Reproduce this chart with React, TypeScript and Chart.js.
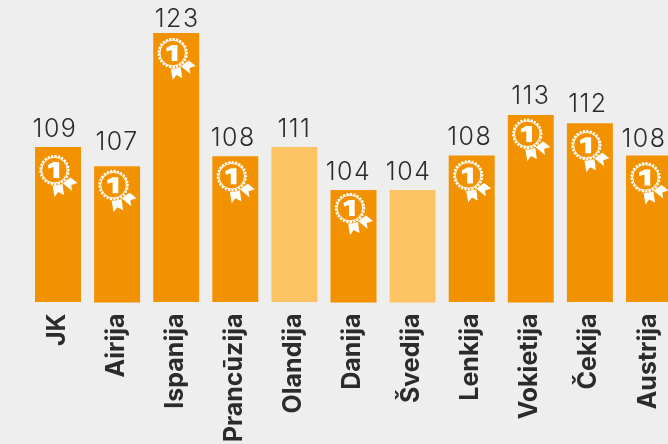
import React, { useEffect, useRef } from "react";
import { Chart, registerables } from "chart.js";

Chart.register(...registerables);

const categories = ["JK", "Airija", "Ispanija", "Prancūzija", "Olandija", "Danija", "Švedija", "Lenkija", "Vokietija", "Čekija", "Austrija"];
const barValues = [109.2, 106.9, 123, 108.1, 109.2, 104, 104, 108.2, 113.1, 112.1, 108.2];
const barBases = [90.45, 90.35, 90.45, 90.45, 90.45, 90.35, 90.35, 90.45, 90.35, 90.45, 90.45];
const shownValues = ["109", "107", "123", "108", "111", "104", "104", "108", "113", "112", "108"];
const hasMedal = [true, true, true, true, false, true, false, true, true, true, true];

const labelDx = [-3, 0, 1, -2, 0, -5, -4, -2, 0, -2, -5];
const labelGap = [10, 16, 6, 10, 10, 10, 10, 10, 11, 11, 8];
const medalDy = [23, 19, 20, 20, 0, 18, 0, 20, 19, 22, 22];

const ORANGE = "#f39200";
const LIGHT = "#fdc463";
const BG = "#eeeeee";
const INK = "#2b2b2b";

function drawMedal(ctx: CanvasRenderingContext2D, cx: number, cy: number) {
  ctx.save();
  ctx.translate(cx, cy);
  ctx.fillStyle = "#ffffff";
  ctx.strokeStyle = "#ffffff";
  const poly = (pts: number[][]) => {
    ctx.beginPath();
    pts.forEach(([x, y], i) => (i ? ctx.lineTo(x, y) : ctx.moveTo(x, y)));
    ctx.closePath();
    ctx.fill();
  };
  poly([[-2, 15], [8, 14], [9.5, 25], [3.7, 22], [0, 27]]);
  poly([[8, 13], [16, 7.5], [23, 13], [16.7, 15], [17.7, 21]]);
  ctx.beginPath();
  ctx.fillStyle = ORANGE;
  ctx.arc(0, 0, 15.5, 0, Math.PI * 2);
  ctx.fill();
  ctx.fillStyle = "#ffffff";
  ctx.beginPath();
  ctx.lineWidth = 2.6;
  ctx.lineCap = "round";
  ctx.setLineDash([0.1, 3.4]);
  ctx.arc(0, 0, 14, 0, Math.PI * 2);
  ctx.stroke();
  ctx.setLineDash([]);
  ctx.beginPath();
  ctx.lineWidth = 1;
  ctx.arc(0, 0, 12.8, 0, Math.PI * 2);
  ctx.stroke();
  poly([[-1, -8], [4.7, -8], [4.7, 8], [-1, 8], [-1, -3], [-6, -1.5], [-6.5, -5]]);
  ctx.restore();
}

const decorations = {
  id: "decorations",
  afterDatasetsDraw(chart: any) {
    const ctx = chart.ctx;
    const bars = chart.getDatasetMeta(0).data;
    ctx.save();
    ctx.font = "300 25px Inter";
    (ctx as any).letterSpacing = "1.5px";
    ctx.fillStyle = INK;
    ctx.textAlign = "center";
    ctx.textBaseline = "alphabetic";
    bars.forEach((bar: any, i: number) => {
      ctx.fillText(shownValues[i], bar.x + labelDx[i], bar.y - labelGap[i]);
      if (hasMedal[i]) drawMedal(ctx, bar.x - 3.5, bar.y + medalDy[i]);
    });
    ctx.restore();
  },
};

export default function App() {
  const ref = useRef<HTMLCanvasElement>(null);
  useEffect(() => {
    document.body.style.margin = "0";
    document.body.style.background = BG;
    const chart = new Chart(ref.current as HTMLCanvasElement, {
      type: "bar",
      data: {
        labels: categories,
        datasets: [
          {
            data: barValues.map((v, i) => [barBases[i], v]) as any,
            backgroundColor: hasMedal.map((m) => (m ? ORANGE : LIGHT)),
            categoryPercentage: 1,
            barPercentage: 0.778,
            borderWidth: 0,
          },
        ],
      },
      options: {
        animation: false,
        responsive: false,
        layout: { padding: { left: 28.45, right: 0, top: 0, bottom: 0 } },
        plugins: { legend: { display: false }, tooltip: { enabled: false } },
        scales: {
          x: {
            grid: { display: false },
            border: { display: false },
            afterFit: (scale: any) => {
              scale.height = 177.5;
            },
            ticks: {
              autoSkip: false,
              minRotation: 90,
              maxRotation: 90,
              padding: 3,
              labelOffset: -1,
              color: INK,
              font: { family: "Inter", size: 25, weight: "700" },
            },
          },
          y: { display: false, min: 90.4, max: 127 },
        },
      },
      plugins: [decorations],
    });
    return () => chart.destroy();
  }, []);
  return (
    <div style={{ width: 668, height: 444, overflow: "hidden", background: BG, position: "relative" }}>
      <canvas ref={ref} width={682} height={480} style={{ display: "block" }} />
    </div>
  );
}
